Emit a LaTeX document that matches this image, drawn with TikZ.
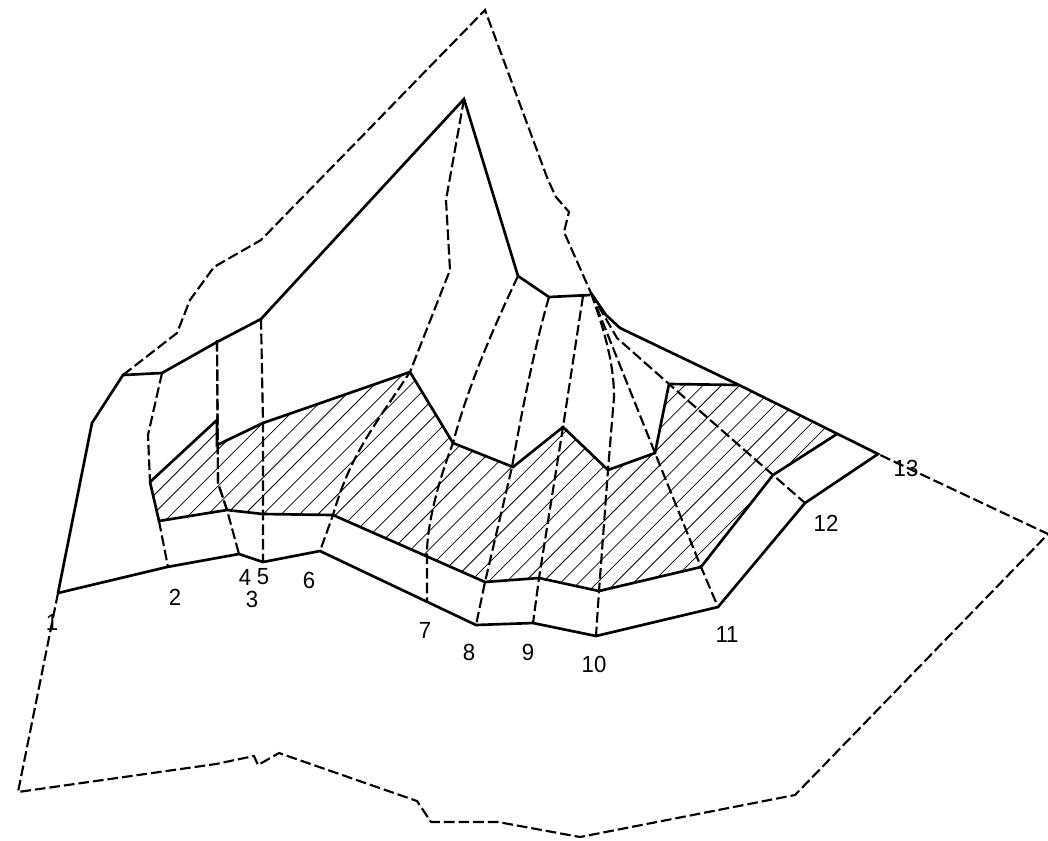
\documentclass[tikz,border=0pt]{standalone}
\usepackage{fontspec}
\setmainfont{Liberation Sans}
\tikzset{
  solidline/.style={line width=2pt,line join=miter,miter limit=3},
  dashline/.style={line width=1.6pt,dash pattern=on 8pt off 3pt},
  hatchline/.style={line width=0.6pt},
  numlabel/.style={inner sep=0pt,font=\fontsize{17.5}{18}\selectfont,xscale=0.95}
}
\begin{document}
\begin{tikzpicture}[x=0.75pt,y=-0.75pt]
\useasboundingbox (0,0) rectangle (1048,840);
% hatching
\begin{scope}
\clip (150,482) -- (217,420) -- (217,445) -- (263,423) -- (410,372) -- (453,443) -- (513,467) -- (563,427) -- (608,470) -- (655,453) -- (669,384) -- (739,385) -- (837,434) -- (773,475) -- (701,567) -- (599,591) -- (539,578) -- (485,582) -- (333,515) -- (263,514) -- (227,510) -- (159,521) -- cycle;
\foreach \k in {-9,...,28}{
  \pgfmathsetmacro{\c}{777.3+18.3*\k}
  \draw[hatchline] (0,\c) -- (\c,0);
}
\end{scope}
% dashed boundary
\draw[dashline] (58,593) -- (18,792) -- (216,764) -- (254,756) -- (258,765) -- (279,753) -- (417,801) -- (431,822) -- (498,822) -- (580,837) -- (795,795) -- (1048,534) -- (878,454);
\draw[dashline] (123,375) -- (177,333) -- (190,300) -- (214,267) -- (261,240) -- (485,10) -- (548,180) -- (556,197) -- (569,212) -- (564,232) -- (591,293);
% dividers
\draw[dashline] (162,373) -- (148,435) -- (150,482);
\draw[dashline] (159,521) -- (168,567);
\draw[dashline] (217,340) -- (218,483) -- (227,510) -- (239,554);
\draw[dashline,dash phase=1.5pt] (217,343) -- (218,483) -- (227,510);
\draw[dashline] (261,319) -- (263,423) -- (263,562);
\draw[dashline] (464,99) -- (446,200) -- (450,270) -- (410,372) .. controls (375,425) and (350,455) .. (333,515) -- (320,551);
\draw[dashline] (518,276) .. controls (490,335) and (467,390) .. (453,443) .. controls (435,490) and (427,530) .. (427,553) -- (427,602);
\draw[dashline] (549,297) .. controls (535,345) and (522,410) .. (512,467) -- (485,582) -- (476,625);
\draw[dashline] (583,296) -- (563,427) -- (539,578) -- (533,623);
\draw[dashline] (591,293) .. controls (608,340) and (614,370) .. (614,397) -- (608,470) -- (599,591) -- (596,636);
\draw[dashline] (591,293) -- (655,453) -- (701,567) -- (718,607);
\draw[dashline] (591,293) -- (617,338) -- (669,384) -- (773,475) -- (805,503);
% solid lines
\draw[solidline] (58,593) -- (92,423) -- (123,375) -- (162,373) -- (217,342) -- (261,319) -- (464,99) -- (518,276) -- (549,297) -- (590,295);
\draw[solidline] (591,293) -- (606,315) -- (620,328) -- (739,385) -- (878,454) -- (805,503) -- (718,607) -- (596,636) -- (533,623) -- (476,625) -- (320,551) -- (263,562) -- (239,554) -- (167,567) -- (58,593);
\draw[solidline] (150,482) -- (217,420) -- (217,445) -- (263,423) -- (410,372) -- (453,443) -- (513,467) -- (563,427) -- (608,470) -- (655,453) -- (669,384) -- (739,385);
\draw[solidline] (837,434) -- (773,475) -- (701,567) -- (599,591) -- (539,578) -- (485,582) -- (333,515) -- (263,514) -- (227,510) -- (159,521) -- (150,482);
% labels
\node[numlabel] (n1) at (52,622) {1};
\node[numlabel] (n2) at (175,597) {2};
\node[numlabel] (n3) at (252,599) {3};
\node[numlabel] (n4) at (245,577) {4};
\node[numlabel] (n5) at (263,577) {5};
\node[numlabel] (n6) at (309,580) {6};
\node[numlabel] (n7) at (425,630) {7};
\node[numlabel] (n8) at (469,652) {8};
\node[numlabel] (n9) at (528,652) {9};
\node[numlabel] (n10) at (594,664) {10};
\node[numlabel] (n11) at (727,634) {11};
\node[numlabel] (n12) at (826,523) {12};
\node[numlabel] (n13) at (906,468) {13};
\end{tikzpicture}
\end{document}
